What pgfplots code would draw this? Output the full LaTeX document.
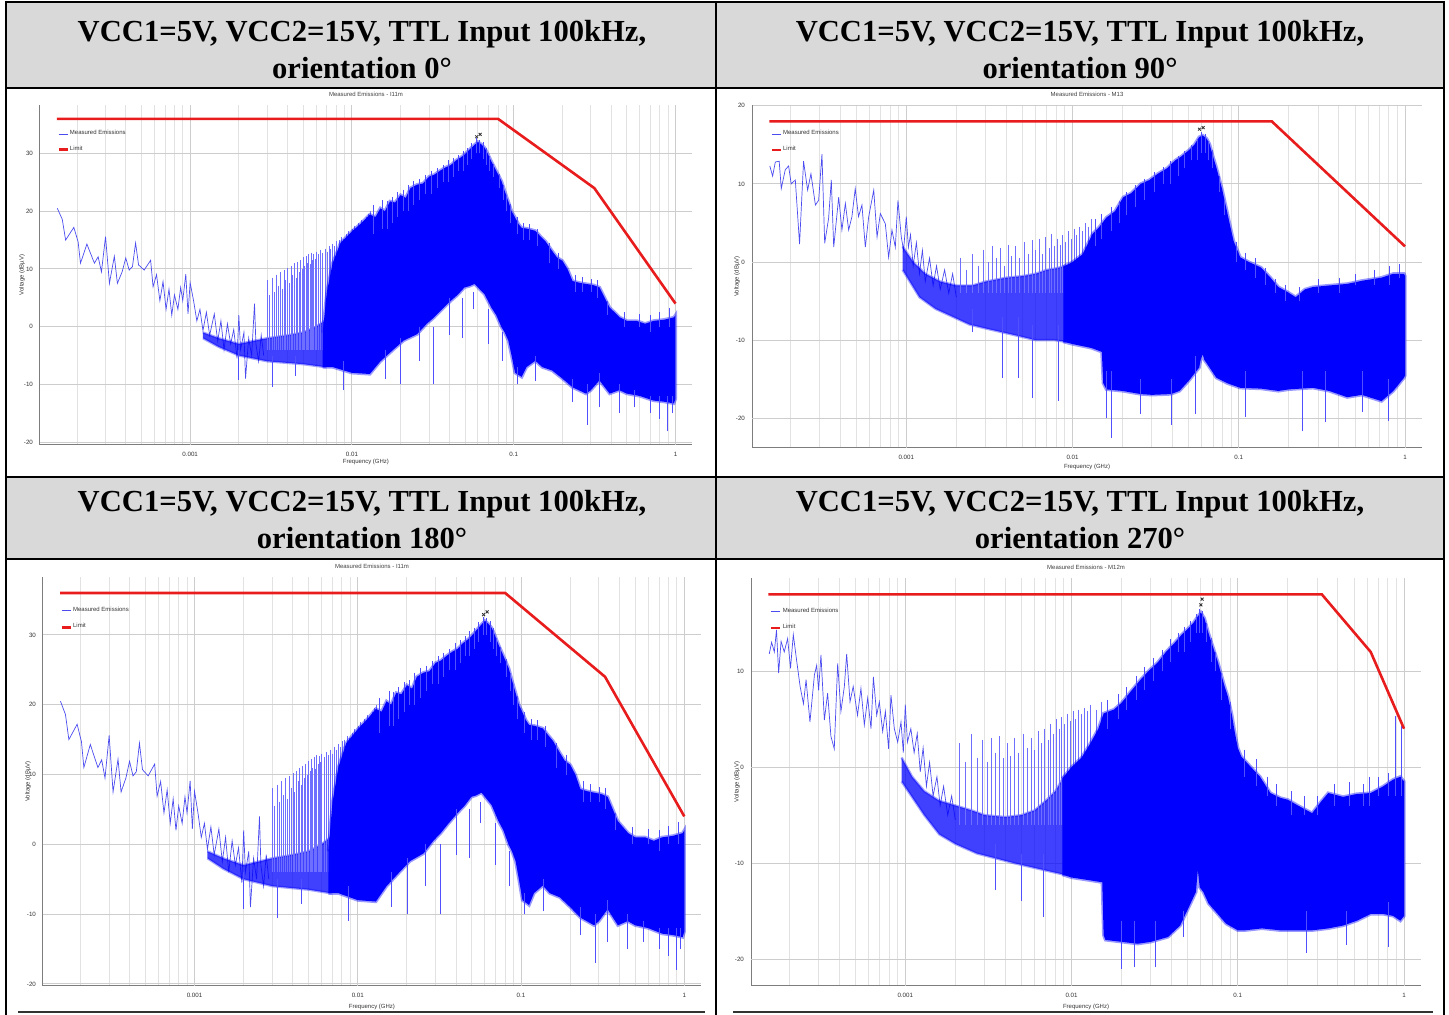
\documentclass[border=0pt]{standalone}
\usepackage{fontspec}
\setmainfont{Liberation Serif}
\newfontfamily\chartfont{Liberation Sans}
\usepackage{pgfplots}
\pgfplotsset{compat=1.18}
\usepackage{pgfplotstable}

\definecolor{hdr}{RGB}{217,217,217}
\definecolor{emiblue}{RGB}{0,0,255}
\definecolor{spkblue}{RGB}{110,110,255}
\definecolor{fzblue}{RGB}{80,80,255}
\definecolor{trc}{RGB}{75,75,240}
\definecolor{lim}{RGB}{232,28,28}
\definecolor{gmaj}{RGB}{125,125,125}
\definecolor{gmid}{RGB}{205,205,205}
\definecolor{gmin}{RGB}{226,226,226}

\newcommand{\tickfont}{\chartfont\fontsize{3.1}{3.5}\selectfont}
\newcommand{\smallfont}{\chartfont\fontsize{3.0}{3.4}\selectfont}

% ======================= plot 1 / plot 3 data =======================
\pgfplotstableread{
x y
1.51e-4 20.5
1.62e-4 18.6
1.70e-4 15.0
1.91e-4 17.2
2.03e-4 14.7
2.10e-4 11.0
2.30e-4 14.3
2.56e-4 11.0
2.70e-4 12.1
2.83e-4 9.5
3.00e-4 15.6
3.17e-4 7.5
3.40e-4 12.2
3.55e-4 7.5
3.80e-4 9.5
4.00e-4 11.9
4.20e-4 9.8
4.40e-4 10.4
4.60e-4 14.5
4.80e-4 10.7
5.20e-4 9.8
5.70e-4 11.5
5.90e-4 6.9
6.20e-4 9.0
6.50e-4 4.5
6.80e-4 7.8
7.10e-4 3.0
7.40e-4 6.5
7.70e-4 2.0
8.00e-4 5.5
8.40e-4 3.0
8.74e-4 6.8
9.00e-4 4.5
9.40e-4 9.1
9.70e-4 2.2
1.00e-3 7.6
1.05e-3 4.5
1.10e-3 1.0
1.15e-3 3.0
1.20e-3 -0.7
1.26e-3 2.5
1.32e-3 -1.5
1.41e-3 2.2
1.48e-3 -2.5
1.55e-3 1.0
1.62e-3 -4.0
1.70e-3 0.5
1.78e-3 -3.0
1.86e-3 -0.5
1.95e-3 -5.5
2.00e-3 2.0
2.05e-3 -4.0
2.15e-3 -1.0
2.20e-3 -9.0
2.30e-3 -2.0
2.40e-3 -5.0
2.50e-3 4.0
2.55e-3 -3.0
2.65e-3 -6.0
2.75e-3 -1.5
2.85e-3 -5.0
}\ponetrace

\pgfplotstableread[row sep=\\]{
x y \\
0.0030 8.0 \\ 0.0030 -4 \\ nan nan \\
0.0031 5.5 \\ 0.0031 -4 \\ nan nan \\
0.0032 8.5 \\ 0.0032 -4 \\ nan nan \\
0.0033 6.0 \\ 0.0033 -4 \\ nan nan \\
0.0034 9.0 \\ 0.0034 -4 \\ nan nan \\
0.0035 7.0 \\ 0.0035 -4 \\ nan nan \\
0.0036 9.5 \\ 0.0036 -4 \\ nan nan \\
0.0037 6.5 \\ 0.0037 -4 \\ nan nan \\
0.0038 9.8 \\ 0.0038 -4 \\ nan nan \\
0.0039 8.0 \\ 0.0039 -4 \\ nan nan \\
0.0040 10.2 \\ 0.0040 -4 \\ nan nan \\
0.0041 7.5 \\ 0.0041 -4 \\ nan nan \\
0.0042 10.5 \\ 0.0042 -4 \\ nan nan \\
0.0043 9.0 \\ 0.0043 -4 \\ nan nan \\
0.0044 11.0 \\ 0.0044 -4 \\ nan nan \\
0.0045 8.5 \\ 0.0045 -4 \\ nan nan \\
0.0046 11.2 \\ 0.0046 -4 \\ nan nan \\
0.0047 9.5 \\ 0.0047 -4 \\ nan nan \\
0.0048 11.5 \\ 0.0048 -4 \\ nan nan \\
0.0049 10.0 \\ 0.0049 -4 \\ nan nan \\
0.0050 12.0 \\ 0.0050 -4 \\ nan nan \\
0.0051 10.5 \\ 0.0051 -4 \\ nan nan \\
0.0052 12.2 \\ 0.0052 -4 \\ nan nan \\
0.0053 11.0 \\ 0.0053 -4 \\ nan nan \\
0.0054 12.5 \\ 0.0054 -4 \\ nan nan \\
0.0055 10.8 \\ 0.0055 -4 \\ nan nan \\
0.0056 12.8 \\ 0.0056 -4 \\ nan nan \\
0.0057 11.5 \\ 0.0057 -4 \\ nan nan \\
0.0058 12.6 \\ 0.0058 -4 \\ nan nan \\
0.0059 11.8 \\ 0.0059 -4 \\ nan nan \\
0.0060 13.0 \\ 0.0060 -4 \\ nan nan \\
0.0062 12.5 \\ 0.0062 -4 \\ nan nan \\
0.0064 13.2 \\ 0.0064 -4 \\ nan nan \\
0.0066 12.8 \\ 0.0066 -4 \\ nan nan \\
0.0068 13.5 \\ 0.0068 -4 \\ nan nan \\
0.0070 13.0 \\ 0.0070 -4 \\ nan nan \\
0.0072 14.0 \\ 0.0072 -4 \\ nan nan \\
0.0074 13.5 \\ 0.0074 -4 \\ nan nan \\
0.0076 14.3 \\ 0.0076 -4 \\ nan nan \\
0.0078 14.0 \\ 0.0078 -4 \\ nan nan \\
0.0080 14.8 \\ 0.0080 -4 \\ nan nan \\
0.0083 15.0 \\ 0.0083 -4 \\ nan nan \\
0.0086 15.5 \\ 0.0086 -4 \\ nan nan \\
0.0089 15.2 \\ 0.0089 -4 \\ nan nan \\
0.0092 16.0 \\ 0.0092 -4 \\ nan nan \\
0.0095 16.5 \\ 0.0095 -4 \\ nan nan \\
0.0098 16.0 \\ 0.0098 -4 \\ nan nan \\
0.0101 17.0 \\ 0.0101 -4 \\ nan nan \\
0.0104 17.5 \\ 0.0104 -4 \\ nan nan \\
0.0107 17.0 \\ 0.0107 -4 \\ nan nan \\
0.0110 18.0 \\ 0.0110 -4 \\ nan nan \\
0.0114 18.5 \\ 0.0114 -4 \\ nan nan \\
0.0118 18.0 \\ 0.0118 -4 \\ nan nan \\
0.0122 19.0 \\ 0.0122 -4 \\ nan nan \\
0.0126 19.5 \\ 0.0126 -4 \\ nan nan \\
0.0130 20.0 \\ 0.0130 -4 \\ nan nan \\
}\ponespikes

\pgfplotstableread[row sep=\\]{
x y \\
0.0135 16 \\ 0.0135 21.0 \\ nan nan \\
0.0155 17 \\ 0.0155 22.0 \\ nan nan \\
0.0165 17 \\ 0.0165 21.8 \\ nan nan \\
0.0178 18 \\ 0.0178 22.5 \\ nan nan \\
0.0192 19 \\ 0.0192 23.3 \\ nan nan \\
0.0208 20 \\ 0.0208 23.6 \\ nan nan \\
0.0222 20 \\ 0.0222 24.5 \\ nan nan \\
0.0240 21 \\ 0.0240 25.2 \\ nan nan \\
0.0262 22 \\ 0.0262 25.5 \\ nan nan \\
0.0285 23 \\ 0.0285 26.3 \\ nan nan \\
0.0310 23 \\ 0.0310 27.0 \\ nan nan \\
0.0335 24 \\ 0.0335 27.4 \\ nan nan \\
0.0365 25 \\ 0.0365 28.0 \\ nan nan \\
0.0395 25 \\ 0.0395 28.8 \\ nan nan \\
0.0425 26 \\ 0.0425 29.2 \\ nan nan \\
0.0455 27 \\ 0.0455 29.8 \\ nan nan \\
0.0485 27 \\ 0.0485 30.5 \\ nan nan \\
0.0515 28 \\ 0.0515 31.0 \\ nan nan \\
0.0550 29 \\ 0.0550 31.8 \\ nan nan \\
0.0590 30 \\ 0.0590 32.6 \\ nan nan \\
0.0615 30 \\ 0.0615 32.4 \\ nan nan \\
0.0645 29 \\ 0.0645 32.0 \\ nan nan \\
0.0675 28 \\ 0.0675 31.0 \\ nan nan \\
0.0710 27 \\ 0.0710 29.6 \\ nan nan \\
0.0750 26 \\ 0.0750 28.2 \\ nan nan \\
0.0810 24 \\ 0.0810 26.5 \\ nan nan \\
0.0860 22 \\ 0.0860 24.5 \\ nan nan \\
0.0900 20 \\ 0.0900 22.8 \\ nan nan \\
0.0950 18 \\ 0.0950 21.2 \\ nan nan \\
0.105 16 \\ 0.105 19.0 \\ nan nan \\
0.115 15 \\ 0.115 18.0 \\ nan nan \\
0.125 15 \\ 0.125 17.8 \\ nan nan \\
0.140 14 \\ 0.140 17.0 \\ nan nan \\
0.165 11 \\ 0.165 14.5 \\ nan nan \\
0.190 10 \\ 0.190 12.8 \\ nan nan \\
0.240 6 \\ 0.240 9.0 \\ nan nan \\
0.265 6 \\ 0.265 8.6 \\ nan nan \\
0.300 6 \\ 0.300 8.2 \\ nan nan \\
0.330 5 \\ 0.330 8.0 \\ nan nan \\
0.380 2 \\ 0.380 4.5 \\ nan nan \\
0.480 0 \\ 0.480 2.5 \\ nan nan \\
0.600 0 \\ 0.600 2.2 \\ nan nan \\
0.700 -1 \\ 0.700 2.0 \\ nan nan \\
0.800 0 \\ 0.800 2.6 \\ nan nan \\
0.920 0 \\ 0.920 3.2 \\ nan nan \\
0.0020 -4 \\ 0.0020 -9.3 \\ nan nan \\
0.0032 -5 \\ 0.0032 -10.5 \\ nan nan \\
0.0045 -5 \\ 0.0045 -8.5 \\ nan nan \\
0.0088 -6 \\ 0.0088 -11.0 \\ nan nan \\
0.0160 -4 \\ 0.0160 -9.0 \\ nan nan \\
0.0200 -2 \\ 0.0200 -10.0 \\ nan nan \\
0.0260 0 \\ 0.0260 -6.0 \\ nan nan \\
0.0320 0 \\ 0.0320 -10.0 \\ nan nan \\
0.0400 5 \\ 0.0400 -1.5 \\ nan nan \\
0.0480 5 \\ 0.0480 -2.0 \\ nan nan \\
0.0560 6 \\ 0.0560 3.0 \\ nan nan \\
0.0700 3 \\ 0.0700 -3.0 \\ nan nan \\
0.0850 -1 \\ 0.0850 -6.0 \\ nan nan \\
0.105 -7 \\ 0.105 -10.0 \\ nan nan \\
0.136 -5 \\ 0.136 -9.5 \\ nan nan \\
0.230 -9 \\ 0.230 -13.0 \\ nan nan \\
0.287 -10 \\ 0.287 -17.0 \\ nan nan \\
0.340 -8 \\ 0.340 -14.0 \\ nan nan \\
0.450 -10 \\ 0.450 -15.0 \\ nan nan \\
0.560 -11 \\ 0.560 -14.0 \\ nan nan \\
0.700 -12 \\ 0.700 -15.0 \\ nan nan \\
0.800 -12 \\ 0.800 -16.0 \\ nan nan \\
0.890 -12 \\ 0.890 -18.0 \\ nan nan \\
0.950 -12 \\ 0.950 -15.0 \\ nan nan \\
}\ponefuzz

\pgfplotstableread{
x y
0.0012 -1.0
0.0015 -2.0
0.0020 -3.0
0.0030 -2.0
0.0040 -1.5
0.0050 -1.0
0.0060 0.0
0.0068 1.0
0.0068 -7.0
0.0050 -6.5
0.0030 -6.0
0.0020 -5.0
0.0015 -3.5
0.0012 -2.0
}\ponebandlo

\pgfplotstableread{
x y
0.0066 -1.0
0.0070 6.0
0.0076 11.0
0.0085 14.5
0.0100 16.5
0.0115 18.0
0.0129 19.4
0.0140 19.0
0.0150 20.5
0.0160 20.0
0.0172 21.7
0.0185 21.5
0.0200 22.8
0.0215 22.3
0.0230 24.0
0.0253 24.6
0.0275 24.8
0.0300 26.0
0.0322 26.3
0.0350 27.0
0.0380 27.6
0.0409 28.0
0.0440 28.8
0.0470 29.3
0.0496 29.8
0.0530 30.6
0.0573 31.5
0.0601 32.0
0.0630 31.6
0.0661 31.0
0.0690 30.0
0.0728 28.6
0.0780 27.0
0.0841 25.2
0.0880 23.5
0.0926 21.7
0.0970 20.0
0.102 18.9
0.107 17.8
0.112 17.1
0.120 17.0
0.136 16.6
0.147 15.6
0.157 14.8
0.173 13.1
0.185 12.0
0.200 11.4
0.215 10.0
0.231 7.9
0.255 7.6
0.280 7.4
0.310 7.2
0.339 6.8
0.365 5.0
0.392 3.3
0.420 2.5
0.453 1.6
0.500 1.0
0.575 1.0
0.650 0.5
0.732 1.0
0.850 1.2
0.977 1.6
1.000 2.0
1.000 -12.5
0.977 -13.3
0.850 -13.0
0.732 -12.8
0.600 -12.0
0.500 -11.6
0.450 -11.0
0.392 -11.6
0.339 -9.3
0.300 -11.0
0.280 -11.6
0.231 -10.5
0.200 -9.0
0.173 -7.6
0.150 -7.0
0.136 -5.9
0.120 -7.0
0.112 -8.7
0.102 -8.0
0.097 -5.0
0.0926 -2.4
0.0880 -1.0
0.0841 -0.1
0.0780 2.0
0.0728 3.3
0.0661 5.6
0.0601 6.8
0.0573 7.4
0.0530 7.0
0.0496 6.8
0.0450 5.5
0.0409 4.5
0.0360 3.0
0.0322 1.6
0.0290 0.5
0.0253 -1.3
0.0209 -2.4
0.0180 -4.0
0.0150 -6.0
0.0129 -8.2
0.0100 -8.0
0.0076 -7.0
0.0066 -7.0
}\ponebandhi

% ======================= plot 2 data =======================
\pgfplotstableread{
x y
1.51e-4 12.3
1.57e-4 11.0
1.63e-4 12.8
1.72e-4 12.9
1.77e-4 9.4
1.87e-4 11.8
1.96e-4 12.3
2.03e-4 10.0
2.15e-4 10.5
2.28e-4 2.3
2.41e-4 12.9
2.55e-4 9.2
2.67e-4 11.3
2.84e-4 7.3
2.97e-4 7.9
3.11e-4 13.8
3.23e-4 2.4
3.41e-4 5.6
3.54e-4 10.5
3.66e-4 1.9
3.92e-4 8.3
4.10e-4 4.1
4.30e-4 7.5
4.50e-4 4.1
4.71e-4 5.8
4.93e-4 9.4
5.16e-4 5.8
5.41e-4 7.3
5.67e-4 1.9
5.94e-4 5.8
6.37e-4 9.2
6.67e-4 3.2
6.98e-4 6.2
7.48e-4 4.9
7.83e-4 0.6
8.20e-4 4.1
8.59e-4 1.9
8.91e-4 7.9
9.33e-4 3.2
9.63e-4 1.5
1.00e-3 5.8
1.03e-3 1.9
1.06e-3 3.5
1.10e-3 -0.5
1.15e-3 2.5
1.20e-3 -1.5
1.25e-3 1.5
1.30e-3 -2.5
1.38e-3 0.5
1.45e-3 -3.0
1.52e-3 -0.5
1.60e-3 -3.5
1.70e-3 -1.0
1.80e-3 -4.0
1.90e-3 -1.5
2.00e-3 -4.5
}\ptwotrace

\pgfplotstableread[row sep=\\]{
x y \\
0.0021 0.5 \\ 0.0021 -4 \\ nan nan \\
0.0023 -1.0 \\ 0.0023 -4 \\ nan nan \\
0.0025 1.0 \\ 0.0025 -4 \\ nan nan \\
0.0027 -0.5 \\ 0.0027 -4 \\ nan nan \\
0.0029 1.5 \\ 0.0029 -4 \\ nan nan \\
0.0031 0.0 \\ 0.0031 -4 \\ nan nan \\
0.0033 2.0 \\ 0.0033 -4 \\ nan nan \\
0.0035 0.5 \\ 0.0035 -4 \\ nan nan \\
0.0037 1.8 \\ 0.0037 -4 \\ nan nan \\
0.0039 -0.5 \\ 0.0039 -4 \\ nan nan \\
0.0041 2.2 \\ 0.0041 -4 \\ nan nan \\
0.0043 0.8 \\ 0.0043 -4 \\ nan nan \\
0.0045 2.0 \\ 0.0045 -4 \\ nan nan \\
0.0048 0.5 \\ 0.0048 -4 \\ nan nan \\
0.0051 2.5 \\ 0.0051 -4 \\ nan nan \\
0.0054 1.0 \\ 0.0054 -4 \\ nan nan \\
0.0057 2.8 \\ 0.0057 -4 \\ nan nan \\
0.0060 1.5 \\ 0.0060 -4 \\ nan nan \\
0.0063 3.0 \\ 0.0063 -4 \\ nan nan \\
0.0066 1.0 \\ 0.0066 -4 \\ nan nan \\
0.0069 3.2 \\ 0.0069 -4 \\ nan nan \\
0.0072 1.8 \\ 0.0072 -4 \\ nan nan \\
0.0075 3.6 \\ 0.0075 -4 \\ nan nan \\
0.0078 2.0 \\ 0.0078 -4 \\ nan nan \\
0.0081 3.0 \\ 0.0081 -4 \\ nan nan \\
0.0084 2.2 \\ 0.0084 -4 \\ nan nan \\
0.0087 3.4 \\ 0.0087 -4 \\ nan nan \\
0.0090 2.5 \\ 0.0090 -4 \\ nan nan \\
0.0094 4.0 \\ 0.0094 -4 \\ nan nan \\
0.0098 3.0 \\ 0.0098 -4 \\ nan nan \\
0.0102 4.2 \\ 0.0102 -4 \\ nan nan \\
0.0106 3.5 \\ 0.0106 -4 \\ nan nan \\
0.0110 4.5 \\ 0.0110 -4 \\ nan nan \\
0.0115 4.0 \\ 0.0115 -4 \\ nan nan \\
0.0120 5.0 \\ 0.0120 -4 \\ nan nan \\
0.0125 4.5 \\ 0.0125 -4 \\ nan nan \\
0.0130 5.5 \\ 0.0130 -4 \\ nan nan \\
}\ptwospikes

\pgfplotstableread[row sep=\\]{
x y \\
0.0138 2 \\ 0.0138 5.5 \\ nan nan \\
0.0150 3 \\ 0.0150 6.2 \\ nan nan \\
0.0170 4 \\ 0.0170 7.0 \\ nan nan \\
0.0190 5 \\ 0.0190 7.8 \\ nan nan \\
0.0212 6 \\ 0.0212 9.0 \\ nan nan \\
0.0240 7 \\ 0.0240 9.8 \\ nan nan \\
0.0270 8 \\ 0.0270 10.6 \\ nan nan \\
0.0310 9 \\ 0.0310 11.5 \\ nan nan \\
0.0350 10 \\ 0.0350 12.2 \\ nan nan \\
0.0390 10 \\ 0.0390 12.9 \\ nan nan \\
0.0430 11 \\ 0.0430 13.6 \\ nan nan \\
0.0470 12 \\ 0.0470 14.2 \\ nan nan \\
0.0520 13 \\ 0.0520 15.0 \\ nan nan \\
0.0560 13 \\ 0.0560 15.8 \\ nan nan \\
0.0595 14 \\ 0.0595 16.6 \\ nan nan \\
0.0625 14 \\ 0.0625 16.4 \\ nan nan \\
0.0655 13 \\ 0.0655 15.5 \\ nan nan \\
0.0690 12 \\ 0.0690 14.3 \\ nan nan \\
0.0760 9 \\ 0.0760 11.0 \\ nan nan \\
0.0820 6 \\ 0.0820 8.0 \\ nan nan \\
0.0960 0 \\ 0.0960 2.5 \\ nan nan \\
0.110 -1 \\ 0.110 1.2 \\ nan nan \\
0.125 -2 \\ 0.125 0.5 \\ nan nan \\
0.145 -3 \\ 0.145 -0.8 \\ nan nan \\
0.165 -4 \\ 0.165 -2.2 \\ nan nan \\
0.190 -5 \\ 0.190 -3.0 \\ nan nan \\
0.230 -5 \\ 0.230 -3.2 \\ nan nan \\
0.300 -4 \\ 0.300 -2.2 \\ nan nan \\
0.400 -4 \\ 0.400 -2.0 \\ nan nan \\
0.500 -3 \\ 0.500 -1.5 \\ nan nan \\
0.650 -3 \\ 0.650 -1.0 \\ nan nan \\
0.800 -3 \\ 0.800 -0.5 \\ nan nan \\
0.920 -2 \\ 0.920 -0.3 \\ nan nan \\
0.0025 -6 \\ 0.0025 -9.0 \\ nan nan \\
0.0038 -7 \\ 0.0038 -14.8 \\ nan nan \\
0.0047 -7 \\ 0.0047 -14.8 \\ nan nan \\
0.0057 -8 \\ 0.0057 -17.4 \\ nan nan \\
0.0082 -8 \\ 0.0082 -17.8 \\ nan nan \\
0.0160 -14 \\ 0.0160 -19.9 \\ nan nan \\
0.0170 -14 \\ 0.0170 -22.5 \\ nan nan \\
0.0257 -15 \\ 0.0257 -19.5 \\ nan nan \\
0.0394 -15 \\ 0.0394 -20.8 \\ nan nan \\
0.0550 -12 \\ 0.0550 -19.5 \\ nan nan \\
0.110 -14 \\ 0.110 -19.8 \\ nan nan \\
0.240 -14 \\ 0.240 -21.6 \\ nan nan \\
0.330 -14 \\ 0.330 -20.5 \\ nan nan \\
0.550 -14 \\ 0.550 -19.2 \\ nan nan \\
0.790 -15 \\ 0.790 -20.3 \\ nan nan \\
}\ptwofuzz

\pgfplotstableread{
x y
0.00095 2.0
0.0011 0.0
0.0013 -1.5
0.0016 -2.5
0.0020 -3.0
0.0025 -3.0
0.0030 -2.5
0.0040 -2.0
0.0050 -1.8
0.0060 -1.5
0.0070 -1.0
0.0080 -0.8
0.0090 -0.5
0.0090 -10.2
0.0078 -10.0
0.0060 -10.0
0.0048 -9.5
0.0038 -9.0
0.0030 -8.5
0.0024 -8.0
0.0019 -7.0
0.0015 -6.0
0.0012 -4.5
0.00095 -1.0
}\ptwobandlo

\pgfplotstableread{
x y
0.0088 -0.6
0.0100 0.0
0.0115 1.0
0.0132 3.6
0.0145 4.5
0.0160 5.7
0.0180 6.5
0.0202 8.3
0.0225 8.8
0.0257 10.0
0.0290 10.5
0.0326 11.3
0.0370 12.0
0.0414 13.0
0.0450 13.5
0.0500 14.3
0.0540 15.0
0.0578 16.0
0.0607 16.2
0.0640 15.8
0.0667 15.1
0.0700 13.5
0.0733 12.1
0.0790 9.5
0.0847 6.6
0.0890 4.5
0.0930 2.7
0.102 0.6
0.115 0.0
0.136 -0.7
0.155 -2.0
0.173 -3.2
0.195 -3.8
0.220 -4.5
0.250 -3.5
0.279 -3.2
0.350 -3.0
0.449 -2.8
0.550 -2.4
0.722 -2.0
0.850 -1.5
0.986 -1.5
1.000 -1.8
1.000 -14.5
0.986 -14.8
0.850 -16.5
0.722 -17.8
0.550 -17.0
0.449 -17.3
0.350 -16.5
0.279 -16.1
0.200 -16.3
0.173 -16.5
0.136 -16.2
0.102 -16.1
0.085 -15.5
0.0733 -14.8
0.0667 -13.5
0.0620 -12.5
0.0607 -11.8
0.0590 -12.5
0.0578 -13.5
0.0500 -15.2
0.0440 -16.5
0.0390 -16.9
0.0300 -17.0
0.0257 -16.9
0.0200 -16.5
0.0160 -16.3
0.0153 -15.5
0.0150 -11.5
0.0130 -11.0
0.0100 -10.5
0.0088 -10.2
}\ptwobandhi

% ======================= plot 4 data =======================
\pgfplotstableread{
x y
1.52e-4 11.8
1.57e-4 13.0
1.63e-4 12.0
1.68e-4 14.3
1.73e-4 9.8
1.79e-4 13.1
1.87e-4 12.0
1.96e-4 13.4
2.04e-4 10.3
2.12e-4 13.8
2.22e-4 11.1
2.33e-4 8.4
2.44e-4 6.6
2.53e-4 9.1
2.67e-4 4.7
2.84e-4 9.6
2.93e-4 10.6
3.01e-4 8.0
3.11e-4 11.7
3.26e-4 4.9
3.41e-4 7.7
3.57e-4 3.2
3.74e-4 1.9
3.92e-4 10.8
4.10e-4 5.8
4.30e-4 8.4
4.44e-4 11.8
4.65e-4 6.8
4.86e-4 8.4
5.16e-4 5.4
5.41e-4 8.2
5.67e-4 4.4
5.94e-4 7.2
6.22e-4 4.0
6.43e-4 9.4
6.73e-4 5.4
6.98e-4 6.8
7.31e-4 3.7
7.59e-4 5.8
7.94e-4 1.9
8.20e-4 7.5
8.59e-4 4.0
9.00e-4 2.6
9.42e-4 4.7
9.73e-4 1.5
1.00e-3 6.5
1.03e-3 2.6
1.08e-3 4.0
1.13e-3 1.5
1.18e-3 3.5
1.23e-3 -0.5
1.28e-3 2.0
1.34e-3 -2.0
1.40e-3 0.5
1.47e-3 -3.0
1.55e-3 -1.0
1.62e-3 -4.0
1.70e-3 -2.0
1.80e-3 -5.0
1.90e-3 -3.0
2.00e-3 -5.5
}\pfourtrace

\pgfplotstableread[row sep=\\]{
x y \\
0.0021 2.5 \\ 0.0021 -6 \\ nan nan \\
0.0023 0.5 \\ 0.0023 -6 \\ nan nan \\
0.0025 3.5 \\ 0.0025 -6 \\ nan nan \\
0.0027 1.0 \\ 0.0027 -6 \\ nan nan \\
0.0029 2.8 \\ 0.0029 -6 \\ nan nan \\
0.0031 0.5 \\ 0.0031 -6 \\ nan nan \\
0.0033 3.0 \\ 0.0033 -6 \\ nan nan \\
0.0035 1.5 \\ 0.0035 -6 \\ nan nan \\
0.0037 3.2 \\ 0.0037 -6 \\ nan nan \\
0.0039 1.0 \\ 0.0039 -6 \\ nan nan \\
0.0041 2.5 \\ 0.0041 -6 \\ nan nan \\
0.0043 1.2 \\ 0.0043 -6 \\ nan nan \\
0.0045 3.0 \\ 0.0045 -6 \\ nan nan \\
0.0048 1.5 \\ 0.0048 -6 \\ nan nan \\
0.0051 3.5 \\ 0.0051 -6 \\ nan nan \\
0.0054 2.0 \\ 0.0054 -6 \\ nan nan \\
0.0057 3.0 \\ 0.0057 -6 \\ nan nan \\
0.0060 1.8 \\ 0.0060 -6 \\ nan nan \\
0.0063 3.8 \\ 0.0063 -6 \\ nan nan \\
0.0066 2.5 \\ 0.0066 -6 \\ nan nan \\
0.0069 4.0 \\ 0.0069 -6 \\ nan nan \\
0.0072 2.8 \\ 0.0072 -6 \\ nan nan \\
0.0075 4.5 \\ 0.0075 -6 \\ nan nan \\
0.0078 3.5 \\ 0.0078 -6 \\ nan nan \\
0.0081 5.0 \\ 0.0081 -6 \\ nan nan \\
0.0084 4.0 \\ 0.0084 -6 \\ nan nan \\
0.0087 5.2 \\ 0.0087 -6 \\ nan nan \\
0.0090 4.5 \\ 0.0090 -6 \\ nan nan \\
0.0094 5.5 \\ 0.0094 -6 \\ nan nan \\
0.0098 4.8 \\ 0.0098 -6 \\ nan nan \\
0.0102 5.8 \\ 0.0102 -6 \\ nan nan \\
0.0106 5.0 \\ 0.0106 -6 \\ nan nan \\
0.0110 6.0 \\ 0.0110 -6 \\ nan nan \\
0.0115 5.5 \\ 0.0115 -6 \\ nan nan \\
0.0120 6.2 \\ 0.0120 -6 \\ nan nan \\
0.0125 5.8 \\ 0.0125 -6 \\ nan nan \\
0.0130 6.5 \\ 0.0130 -6 \\ nan nan \\
0.0140 6.0 \\ 0.0140 -6 \\ nan nan \\
0.0150 6.8 \\ 0.0150 -6 \\ nan nan \\
}\pfourspikes

\pgfplotstableread[row sep=\\]{
x y \\
0.0165 4 \\ 0.0165 7.0 \\ nan nan \\
0.0190 5 \\ 0.0190 7.6 \\ nan nan \\
0.0215 6 \\ 0.0215 8.3 \\ nan nan \\
0.0245 7 \\ 0.0245 9.5 \\ nan nan \\
0.0275 8 \\ 0.0275 10.4 \\ nan nan \\
0.0310 9 \\ 0.0310 11.4 \\ nan nan \\
0.0350 10 \\ 0.0350 12.2 \\ nan nan \\
0.0395 11 \\ 0.0395 13.3 \\ nan nan \\
0.0440 12 \\ 0.0440 14.0 \\ nan nan \\
0.0480 12 \\ 0.0480 14.6 \\ nan nan \\
0.0520 13 \\ 0.0520 15.2 \\ nan nan \\
0.0560 14 \\ 0.0560 15.9 \\ nan nan \\
0.0590 14 \\ 0.0590 16.5 \\ nan nan \\
0.0615 14 \\ 0.0615 16.3 \\ nan nan \\
0.0650 13 \\ 0.0650 15.0 \\ nan nan \\
0.0690 11 \\ 0.0690 13.5 \\ nan nan \\
0.0735 10 \\ 0.0735 12.0 \\ nan nan \\
0.0800 7 \\ 0.0800 9.8 \\ nan nan \\
0.0900 4 \\ 0.0900 6.8 \\ nan nan \\
0.1100 -1 \\ 0.1100 1.8 \\ nan nan \\
0.1300 -2 \\ 0.1300 0.8 \\ nan nan \\
0.1500 -3 \\ 0.1500 -1.0 \\ nan nan \\
0.1700 -4 \\ 0.1700 -1.8 \\ nan nan \\
0.2100 -5 \\ 0.2100 -2.5 \\ nan nan \\
0.2500 -5 \\ 0.2500 -3.0 \\ nan nan \\
0.3000 -5 \\ 0.3000 -3.0 \\ nan nan \\
0.3800 -4 \\ 0.3800 -1.8 \\ nan nan \\
0.4700 -4 \\ 0.4700 -1.5 \\ nan nan \\
0.5700 -4 \\ 0.5700 -1.8 \\ nan nan \\
0.7000 -3 \\ 0.7000 -1.0 \\ nan nan \\
0.8000 -3 \\ 0.8000 -0.6 \\ nan nan \\
0.6200 -4 \\ 0.6200 -1.0 \\ nan nan \\
0.8900 -3 \\ 0.8900 5.3 \\ nan nan \\
0.9600 -3 \\ 0.9600 4.3 \\ nan nan \\
0.0035 -8 \\ 0.0035 -12.8 \\ nan nan \\
0.0050 -9 \\ 0.0050 -13.9 \\ nan nan \\
0.0068 -9 \\ 0.0068 -15.6 \\ nan nan \\
0.0198 -16 \\ 0.0198 -21.0 \\ nan nan \\
0.0240 -16 \\ 0.0240 -20.8 \\ nan nan \\
0.0320 -16 \\ 0.0320 -20.8 \\ nan nan \\
0.0470 -15 \\ 0.0470 -17.7 \\ nan nan \\
0.2600 -15 \\ 0.2600 -19.4 \\ nan nan \\
0.4500 -15 \\ 0.4500 -18.5 \\ nan nan \\
0.8100 -14 \\ 0.8100 -18.7 \\ nan nan \\
}\pfourfuzz

\pgfplotstableread{
x y
0.00095 1.0
0.0011 -1.0
0.0013 -2.5
0.0016 -3.5
0.0020 -4.0
0.0025 -4.5
0.0030 -5.0
0.0040 -5.2
0.0050 -5.0
0.0060 -4.5
0.0070 -3.5
0.0080 -2.5
0.0090 -1.0
0.0090 -11.2
0.0080 -11.0
0.0060 -10.5
0.0045 -10.0
0.0035 -9.5
0.0027 -9.0
0.0020 -8.0
0.0016 -7.0
0.0013 -5.0
0.00095 -1.5
}\pfourbandlo

\pgfplotstableread{
x y
0.0088 -1.2
0.0100 0.0
0.0115 1.0
0.0130 2.5
0.0145 4.0
0.0156 5.6
0.0180 6.0
0.0200 6.7
0.0230 8.0
0.0260 9.1
0.0290 10.0
0.0330 10.9
0.0370 12.0
0.0420 13.0
0.0460 13.8
0.0500 14.4
0.0540 15.0
0.0575 15.7
0.0600 16.1
0.0630 15.5
0.0665 14.0
0.0710 12.5
0.0760 10.9
0.0830 8.5
0.0870 7.4
0.0920 5.5
0.0960 3.6
0.1000 2.0
0.1050 1.1
0.1200 0.0
0.1360 -1.0
0.1570 -2.7
0.1800 -3.2
0.2000 -3.4
0.2300 -4.0
0.2800 -4.8
0.3200 -3.5
0.3500 -2.7
0.4300 -3.1
0.5200 -2.8
0.6300 -2.7
0.7500 -2.0
0.8600 -1.3
0.9500 -1.0
1.0000 -1.5
1.0000 -15.5
0.9500 -16.0
0.8600 -15.5
0.7500 -15.3
0.6300 -15.3
0.5200 -16.0
0.4300 -16.5
0.3500 -16.8
0.2800 -17.0
0.2200 -17.0
0.1800 -17.0
0.1400 -16.8
0.1100 -17.0
0.1000 -17.0
0.0850 -16.3
0.0667 -14.2
0.0620 -13.0
0.0590 -12.5
0.0575 -10.7
0.0560 -13.0
0.0520 -14.2
0.0450 -16.5
0.0380 -17.7
0.0300 -18.2
0.0250 -18.4
0.0200 -18.2
0.0160 -18.0
0.0156 -17.5
0.0153 -12.0
0.0130 -11.8
0.0100 -11.5
0.0088 -11.2
}\pfourbandhi

\tikzset{
  emitrace/.style={draw=trc, line width=0.35pt},
  emibandlo/.style={fill=emiblue, fill opacity=0.75, draw=emiblue, draw opacity=0.35, line width=1.2pt},
  emibandhi/.style={fill=emiblue, draw=emiblue, draw opacity=0.4, line width=1.6pt},
  emispk/.style={draw=spkblue, line width=0.3pt},
  emifuzz/.style={draw=fzblue, line width=0.35pt},
  emilimit/.style={draw=lim, line width=1.3pt},
}

\pgfplotsset{
  every axis title/.style={at={(0.5,1)}, anchor=south, yshift=0.5pt, font=\smallfont, text=black!75},
}

\begin{document}
\begin{tikzpicture}
% ---------------- table frame ----------------
\begin{scope}[x=0.5pt, y=-0.5pt, yshift=507.5pt]
  \fill[hdr] (6,2) rectangle (1444,88);
  \fill[hdr] (6,477) rectangle (1444,559);
  \draw[line width=1.3pt] (6,2) -- (1444,2);
  \draw[line width=1.3pt] (6,88) -- (1444,88);
  \draw[line width=1.3pt] (6,477) -- (1444,477);
  \draw[line width=1.3pt] (6,559) -- (1444,559);
  \draw[line width=1.3pt] (6,1) -- (6,1015);
  \draw[line width=1.3pt] (716,1) -- (716,1015);
  \draw[line width=1.3pt] (1444,1) -- (1444,1015);
  \draw[line width=0.8pt, black!80] (18,1012) -- (705,1012);
  \draw[line width=0.8pt, black!80] (733,1012) -- (1433,1012);
  \node[anchor=base, font=\fontsize{15.3}{18}\selectfont\bfseries, inner sep=0pt] at (362,42) {VCC1=5V, VCC2=15V, TTL Input 100kHz,};
  \node[anchor=base, font=\fontsize{15.3}{18}\selectfont\bfseries, inner sep=0pt] at (362,79) {orientation 0°};
  \node[anchor=base, font=\fontsize{15.3}{18}\selectfont\bfseries, inner sep=0pt] at (1080,42) {VCC1=5V, VCC2=15V, TTL Input 100kHz,};
  \node[anchor=base, font=\fontsize{15.3}{18}\selectfont\bfseries, inner sep=0pt] at (1080,79) {orientation 90°};
  \node[anchor=base, font=\fontsize{15.3}{18}\selectfont\bfseries, inner sep=0pt] at (362,512) {VCC1=5V, VCC2=15V, TTL Input 100kHz,};
  \node[anchor=base, font=\fontsize{15.3}{18}\selectfont\bfseries, inner sep=0pt] at (362,549) {orientation 180°};
  \node[anchor=base, font=\fontsize{15.3}{18}\selectfont\bfseries, inner sep=0pt] at (1080,512) {VCC1=5V, VCC2=15V, TTL Input 100kHz,};
  \node[anchor=base, font=\fontsize{15.3}{18}\selectfont\bfseries, inner sep=0pt] at (1080,549) {orientation 270°};
\end{scope}

% ---------------- plot 1 ----------------
\begin{axis}[scale only axis, anchor=south west, at={(20pt,285pt)}, width=326pt, height=170pt,
  xmode=log, xmin=1.18e-4, xmax=1.265,
  ymin=-20.5, ymax=38.4, ytick={-20,-10,0,10,20,30},
  extra y ticks={20,-10,-20},
  unbounded coords=jump,
  axis x line*=bottom, axis y line*=left,
  axis line style={gmaj, line width=0.5pt},
  xtick={0.001,0.01,0.1,1}, xticklabels={0.001,0.01,0.1,1},
  minor xtick={2e-4,3e-4,4e-4,5e-4,6e-4,7e-4,8e-4,9e-4,0.002,0.003,0.004,0.005,0.006,0.007,0.008,0.009,0.02,0.03,0.04,0.05,0.06,0.07,0.08,0.09,0.2,0.3,0.4,0.5,0.6,0.7,0.8,0.9},
  extra x ticks={0.001,0.01,0.1,1}, extra x tick labels={},
  extra x tick style={grid style={gmaj, line width=0.5pt}},
  extra y tick labels={},
  extra y tick style={grid style={gmaj, line width=0.5pt}},
  xmajorgrids, xminorgrids, ymajorgrids,
  major grid style={gmid, line width=0.5pt},
  minor grid style={gmin, line width=0.5pt},
  major tick length=0pt, minor tick length=0pt,
  /pgf/number format/assume math mode=true,
  tick label style={font=\tickfont, text=black!80},
  xlabel={Frequency (GHz)}, ylabel={Voltage (dBµV)},
  label style={font=\smallfont, text=black!80},
  xlabel style={at={(axis description cs:0.5,0)}, anchor=center, yshift=-8.5pt},
  ylabel style={at={(axis description cs:0,0.5)}, anchor=center, yshift=9pt},
  title={Measured Emissions - I11m},
  legend style={at={(0.026,0.93)}, anchor=north west, draw=none, fill=none, font=\smallfont, row sep=3.2pt, inner sep=0pt, nodes={inner sep=0.5pt, text=black!80}},
  legend cell align=left,
  legend image code/.code={\draw[#1] (0pt,0pt) -- (4.5pt,0pt);}]
  \addplot[emitrace] table[x=x,y=y] {\ponetrace};
  \addlegendentry{Measured Emissions}
  \addplot[emibandlo, forget plot] table[x=x,y=y] {\ponebandlo};
  \addplot[emispk, forget plot] table[x=x,y=y] {\ponespikes};
  \addplot[emibandhi, forget plot] table[x=x,y=y] {\ponebandhi};
  \addplot[emifuzz, forget plot] table[x=x,y=y] {\ponefuzz};
  \addplot[emilimit] coordinates {(1.5e-4,36) (0.08,36) (0.315,24) (1,4)};
  \addlegendentry{Limit}
  \addplot[only marks, mark=x, mark size=1pt, gray!40!black, forget plot] coordinates {(0.059,32.9) (0.062,33.3)};
\end{axis}

% ---------------- plot 2 ----------------
\begin{axis}[scale only axis, anchor=south west, at={(376pt,283.5pt)}, width=335pt, height=171.5pt,
  xmode=log, xmin=1.18e-4, xmax=1.265,
  ymin=-23.8, ymax=20.1, ytick={-20,-10,0,10,20},
  extra y ticks={0,-20},
  unbounded coords=jump,
  axis x line*=bottom, axis y line*=left,
  axis line style={gmaj, line width=0.5pt},
  xtick={0.001,0.01,0.1,1}, xticklabels={0.001,0.01,0.1,1},
  minor xtick={2e-4,3e-4,4e-4,5e-4,6e-4,7e-4,8e-4,9e-4,0.002,0.003,0.004,0.005,0.006,0.007,0.008,0.009,0.02,0.03,0.04,0.05,0.06,0.07,0.08,0.09,0.2,0.3,0.4,0.5,0.6,0.7,0.8,0.9},
  extra x ticks={0.001,0.01,0.1,1}, extra x tick labels={},
  extra x tick style={grid style={gmaj, line width=0.5pt}},
  extra y tick labels={},
  extra y tick style={grid style={gmaj, line width=0.5pt}},
  xmajorgrids, xminorgrids, ymajorgrids,
  major grid style={gmid, line width=0.5pt},
  minor grid style={gmin, line width=0.5pt},
  major tick length=0pt, minor tick length=0pt,
  /pgf/number format/assume math mode=true,
  tick label style={font=\tickfont, text=black!80},
  xlabel={Frequency (GHz)}, ylabel={Voltage (dBµV)},
  label style={font=\smallfont, text=black!80},
  xlabel style={at={(axis description cs:0.5,0)}, anchor=center, yshift=-9.5pt},
  ylabel style={at={(axis description cs:0,0.5)}, anchor=center, yshift=7.5pt},
  title={Measured Emissions - M13},
  legend style={at={(0.027,0.93)}, anchor=north west, draw=none, fill=none, font=\smallfont, row sep=3.2pt, inner sep=0pt, nodes={inner sep=0.5pt, text=black!80}},
  legend cell align=left,
  legend image code/.code={\draw[#1] (0pt,0pt) -- (4.5pt,0pt);}]
  \addplot[emitrace] table[x=x,y=y] {\ptwotrace};
  \addlegendentry{Measured Emissions}
  \addplot[emibandlo, forget plot] table[x=x,y=y] {\ptwobandlo};
  \addplot[emispk, forget plot] table[x=x,y=y] {\ptwospikes};
  \addplot[emibandhi, forget plot] table[x=x,y=y] {\ptwobandhi};
  \addplot[emifuzz, forget plot] table[x=x,y=y] {\ptwofuzz};
  \addplot[emilimit] coordinates {(1.5e-4,18) (0.158,18) (1,2)};
  \addlegendentry{Limit}
  \addplot[only marks, mark=x, mark size=1pt, gray!40!black, forget plot] coordinates {(0.058,17.0) (0.061,17.2)};
\end{axis}

% ---------------- plot 3 ----------------
\begin{axis}[scale only axis, anchor=south west, at={(21.5pt,14.5pt)}, width=329pt, height=204.5pt,
  xmode=log, xmin=1.18e-4, xmax=1.265,
  ymin=-20.3, ymax=38.3, ytick={-20,-10,0,10,20,30},
  extra y ticks={20,0,-10,-20},
  unbounded coords=jump,
  axis x line*=bottom, axis y line*=left,
  axis line style={gmaj, line width=0.5pt},
  xtick={0.001,0.01,0.1,1}, xticklabels={0.001,0.01,0.1,1},
  minor xtick={2e-4,3e-4,4e-4,5e-4,6e-4,7e-4,8e-4,9e-4,0.002,0.003,0.004,0.005,0.006,0.007,0.008,0.009,0.02,0.03,0.04,0.05,0.06,0.07,0.08,0.09,0.2,0.3,0.4,0.5,0.6,0.7,0.8,0.9},
  extra x ticks={0.001,0.01,0.1,1}, extra x tick labels={},
  extra x tick style={grid style={gmaj, line width=0.5pt}},
  extra y tick labels={},
  extra y tick style={grid style={gmaj, line width=0.5pt}},
  xmajorgrids, xminorgrids, ymajorgrids,
  major grid style={gmid, line width=0.5pt},
  minor grid style={gmin, line width=0.5pt},
  major tick length=0pt, minor tick length=0pt,
  /pgf/number format/assume math mode=true,
  tick label style={font=\tickfont, text=black!80},
  xlabel={Frequency (GHz)}, ylabel={Voltage (dBµV)},
  label style={font=\smallfont, text=black!80},
  xlabel style={at={(axis description cs:0.5,0)}, anchor=center, yshift=-10.5pt},
  ylabel style={at={(axis description cs:0,0.5)}, anchor=center, yshift=7.5pt},
  title={Measured Emissions - I11m},
  legend style={at={(0.026,0.93)}, anchor=north west, draw=none, fill=none, font=\smallfont, row sep=3.6pt, inner sep=0pt, nodes={inner sep=0.5pt, text=black!80}},
  legend cell align=left,
  legend image code/.code={\draw[#1] (0pt,0pt) -- (4.5pt,0pt);}]
  \addplot[emitrace] table[x=x,y=y] {\ponetrace};
  \addlegendentry{Measured Emissions}
  \addplot[emibandlo, forget plot] table[x=x,y=y] {\ponebandlo};
  \addplot[emispk, forget plot] table[x=x,y=y] {\ponespikes};
  \addplot[emibandhi, forget plot] table[x=x,y=y] {\ponebandhi};
  \addplot[emifuzz, forget plot] table[x=x,y=y] {\ponefuzz};
  \addplot[emilimit] coordinates {(1.5e-4,36) (0.08,36) (0.327,24) (1,4)};
  \addlegendentry{Limit}
  \addplot[only marks, mark=x, mark size=1pt, gray!40!black, forget plot] coordinates {(0.059,32.9) (0.062,33.3)};
\end{axis}

% ---------------- plot 4 ----------------
\begin{axis}[scale only axis, anchor=south west, at={(375.5pt,14.5pt)}, width=335pt, height=204pt,
  xmode=log, xmin=1.18e-4, xmax=1.265,
  ymin=-22.8, ymax=19.7, ytick={-20,-10,0,10},
  extra y ticks={0,-20},
  unbounded coords=jump,
  axis x line*=bottom, axis y line*=left,
  axis line style={gmaj, line width=0.5pt},
  xtick={0.001,0.01,0.1,1}, xticklabels={0.001,0.01,0.1,1},
  minor xtick={2e-4,3e-4,4e-4,5e-4,6e-4,7e-4,8e-4,9e-4,0.002,0.003,0.004,0.005,0.006,0.007,0.008,0.009,0.02,0.03,0.04,0.05,0.06,0.07,0.08,0.09,0.2,0.3,0.4,0.5,0.6,0.7,0.8,0.9},
  extra x ticks={0.001,0.01,0.1,1}, extra x tick labels={},
  extra x tick style={grid style={gmaj, line width=0.5pt}},
  extra y tick labels={},
  extra y tick style={grid style={gmaj, line width=0.5pt}},
  xmajorgrids, xminorgrids, ymajorgrids,
  major grid style={gmid, line width=0.5pt},
  minor grid style={gmin, line width=0.5pt},
  major tick length=0pt, minor tick length=0pt,
  /pgf/number format/assume math mode=true,
  tick label style={font=\tickfont, text=black!80},
  xlabel={Frequency (GHz)}, ylabel={Voltage (dBµV)},
  label style={font=\smallfont, text=black!80},
  xlabel style={at={(axis description cs:0.5,0)}, anchor=center, yshift=-10.5pt},
  ylabel style={at={(axis description cs:0,0.5)}, anchor=center, yshift=7pt},
  title={Measured Emissions - M12m},
  legend style={at={(0.028,0.93)}, anchor=north west, draw=none, fill=none, font=\smallfont, row sep=3.6pt, inner sep=0pt, nodes={inner sep=0.5pt, text=black!80}},
  legend cell align=left,
  legend image code/.code={\draw[#1] (0pt,0pt) -- (4.5pt,0pt);}]
  \addplot[emitrace] table[x=x,y=y] {\pfourtrace};
  \addlegendentry{Measured Emissions}
  \addplot[emibandlo, forget plot] table[x=x,y=y] {\pfourbandlo};
  \addplot[emispk, forget plot] table[x=x,y=y] {\pfourspikes};
  \addplot[emibandhi, forget plot] table[x=x,y=y] {\pfourbandhi};
  \addplot[emifuzz, forget plot] table[x=x,y=y] {\pfourfuzz};
  \addplot[emilimit] coordinates {(1.5e-4,18) (0.32,18) (0.63,12) (1,4)};
  \addlegendentry{Limit}
  \addplot[only marks, mark=x, mark size=1pt, gray!40!black, forget plot] coordinates {(0.060,16.9) (0.061,17.5)};
\end{axis}

\pgfresetboundingbox
\path (0pt,0pt) rectangle (724.5pt,507.5pt);
\end{tikzpicture}
\end{document}
